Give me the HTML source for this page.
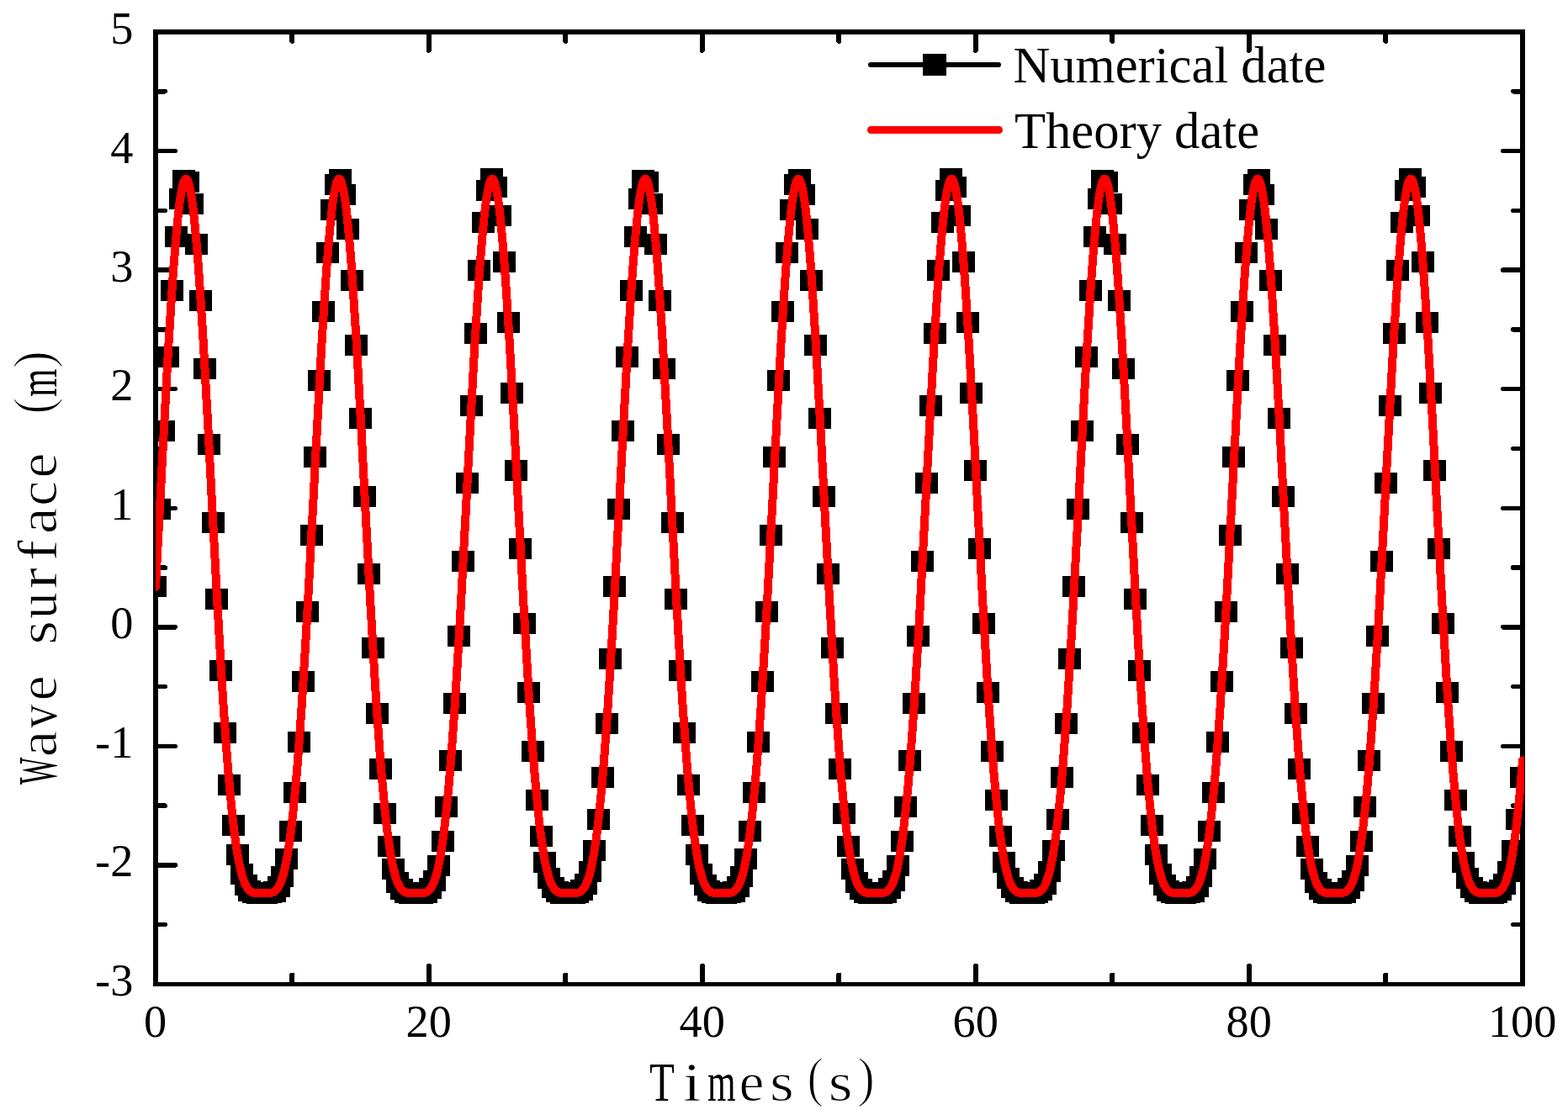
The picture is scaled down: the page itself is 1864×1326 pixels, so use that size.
<!DOCTYPE html>
<html lang="en"><head><meta charset="utf-8"><title>Wave surface (m) vs Times(s)</title>
<style>html,body{margin:0;padding:0;background:#fff;overflow:hidden;}svg{display:block;}.tk{font-family:"Liberation Serif",serif;font-size:54.3px;fill:#000;}.lg{font-family:"Liberation Serif",serif;font-size:60.6px;fill:#000;}.ax{font-family:"Liberation Serif",serif;font-size:66px;fill:#000;}</style></head><body>
<svg width="1864" height="1326" viewBox="0 0 1864 1326">
<rect width="1864" height="1326" fill="#fff"/>
<g shape-rendering="crispEdges" fill="#000">
<rect x="182" y="35" width="6" height="1138"/>
<rect x="1807" y="35" width="6" height="1138"/>
<rect x="182" y="35" width="1631" height="6"/>
<rect x="182" y="1168" width="1631" height="5"/>
</g>
<g stroke="#000" stroke-width="6" stroke-linecap="round" fill="none" shape-rendering="crispEdges">
<line x1="347.30" y1="1170" x2="347.30" y2="1159.6"/>
<line x1="347.30" y1="38" x2="347.30" y2="48.9"/>
<line x1="509.80" y1="1170" x2="509.80" y2="1148.8"/>
<line x1="509.80" y1="38" x2="509.80" y2="59.7"/>
<line x1="672.30" y1="1170" x2="672.30" y2="1159.6"/>
<line x1="672.30" y1="38" x2="672.30" y2="48.9"/>
<line x1="834.80" y1="1170" x2="834.80" y2="1148.8"/>
<line x1="834.80" y1="38" x2="834.80" y2="59.7"/>
<line x1="997.30" y1="1170" x2="997.30" y2="1159.6"/>
<line x1="997.30" y1="38" x2="997.30" y2="48.9"/>
<line x1="1159.80" y1="1170" x2="1159.80" y2="1148.8"/>
<line x1="1159.80" y1="38" x2="1159.80" y2="59.7"/>
<line x1="1322.30" y1="1170" x2="1322.30" y2="1159.6"/>
<line x1="1322.30" y1="38" x2="1322.30" y2="48.9"/>
<line x1="1484.80" y1="1170" x2="1484.80" y2="1148.8"/>
<line x1="1484.80" y1="38" x2="1484.80" y2="59.7"/>
<line x1="1647.30" y1="1170" x2="1647.30" y2="1159.6"/>
<line x1="1647.30" y1="38" x2="1647.30" y2="48.9"/>
<line x1="185" y1="1099.72" x2="196.2" y2="1099.72" stroke-width="5.5"/>
<line x1="1810" y1="1099.72" x2="1798.8" y2="1099.72" stroke-width="5.5"/>
<line x1="185" y1="1028.94" x2="208.2" y2="1028.94" stroke-width="5.5"/>
<line x1="1810" y1="1028.94" x2="1786.8" y2="1028.94" stroke-width="5.5"/>
<line x1="185" y1="958.16" x2="196.2" y2="958.16" stroke-width="5.5"/>
<line x1="1810" y1="958.16" x2="1798.8" y2="958.16" stroke-width="5.5"/>
<line x1="185" y1="887.38" x2="208.2" y2="887.38" stroke-width="5.5"/>
<line x1="1810" y1="887.38" x2="1786.8" y2="887.38" stroke-width="5.5"/>
<line x1="185" y1="816.59" x2="196.2" y2="816.59" stroke-width="5.5"/>
<line x1="1810" y1="816.59" x2="1798.8" y2="816.59" stroke-width="5.5"/>
<line x1="185" y1="745.81" x2="208.2" y2="745.81" stroke-width="5.5"/>
<line x1="1810" y1="745.81" x2="1786.8" y2="745.81" stroke-width="5.5"/>
<line x1="185" y1="675.03" x2="196.2" y2="675.03" stroke-width="5.5"/>
<line x1="1810" y1="675.03" x2="1798.8" y2="675.03" stroke-width="5.5"/>
<line x1="185" y1="604.25" x2="208.2" y2="604.25" stroke-width="5.5"/>
<line x1="1810" y1="604.25" x2="1786.8" y2="604.25" stroke-width="5.5"/>
<line x1="185" y1="533.47" x2="196.2" y2="533.47" stroke-width="5.5"/>
<line x1="1810" y1="533.47" x2="1798.8" y2="533.47" stroke-width="5.5"/>
<line x1="185" y1="462.69" x2="208.2" y2="462.69" stroke-width="5.5"/>
<line x1="1810" y1="462.69" x2="1786.8" y2="462.69" stroke-width="5.5"/>
<line x1="185" y1="391.91" x2="196.2" y2="391.91" stroke-width="5.5"/>
<line x1="1810" y1="391.91" x2="1798.8" y2="391.91" stroke-width="5.5"/>
<line x1="185" y1="321.12" x2="208.2" y2="321.12" stroke-width="5.5"/>
<line x1="1810" y1="321.12" x2="1786.8" y2="321.12" stroke-width="5.5"/>
<line x1="185" y1="250.34" x2="196.2" y2="250.34" stroke-width="5.5"/>
<line x1="1810" y1="250.34" x2="1798.8" y2="250.34" stroke-width="5.5"/>
<line x1="185" y1="179.56" x2="208.2" y2="179.56" stroke-width="5.5"/>
<line x1="1810" y1="179.56" x2="1786.8" y2="179.56" stroke-width="5.5"/>
<line x1="185" y1="108.78" x2="196.2" y2="108.78" stroke-width="5.5"/>
<line x1="1810" y1="108.78" x2="1798.8" y2="108.78" stroke-width="5.5"/>
</g>
<g class="tk" text-anchor="end">
<text x="158.3" y="1183.7">-3</text>
<text x="158.3" y="1042.2">-2</text>
<text x="158.3" y="900.8">-1</text>
<text x="158.3" y="759.3">0</text>
<text x="158.3" y="617.9">1</text>
<text x="158.3" y="476.4">2</text>
<text x="158.3" y="334.9">3</text>
<text x="158.3" y="193.5">4</text>
<text x="158.3" y="52.0">5</text>
</g>
<g class="tk" text-anchor="middle">
<text x="184.7" y="1232.8">0</text>
<text x="509.7" y="1232.8">20</text>
<text x="834.7" y="1232.8">40</text>
<text x="1159.7" y="1232.8">60</text>
<text x="1484.7" y="1232.8">80</text>
<text x="1809.7" y="1232.8">100</text>
</g>
<text class="ax" aria-label="Times(s)"><tspan x="772.07" y="1309.0" textLength="29.80" lengthAdjust="spacingAndGlyphs">T</tspan><tspan x="812.55" y="1309.0" textLength="20.54" lengthAdjust="spacingAndGlyphs" stroke="#fff" stroke-width="0.5">i</tspan><tspan x="841.09" y="1309.0" textLength="33.59" lengthAdjust="spacingAndGlyphs">m</tspan><tspan x="878.43" y="1309.0" textLength="29.87" lengthAdjust="spacingAndGlyphs" stroke="#fff" stroke-width="1.0">e</tspan><tspan x="914.94" y="1309.0" textLength="28.77" lengthAdjust="spacingAndGlyphs" stroke="#fff" stroke-width="1.0">s</tspan><tspan x="959.43" y="1303.0" textLength="19.44" lengthAdjust="spacingAndGlyphs" stroke="#fff" stroke-width="1.4">(</tspan><tspan x="984.84" y="1309.0" textLength="28.77" lengthAdjust="spacingAndGlyphs" stroke="#fff" stroke-width="1.0">s</tspan><tspan x="1018.98" y="1303.0" textLength="20.99" lengthAdjust="spacingAndGlyphs" stroke="#fff" stroke-width="1.4">)</tspan></text>
<text class="ax" aria-label="Wave surface (m)" transform="rotate(-90)"><tspan x="-933.03" y="67.2" textLength="32.30" lengthAdjust="spacingAndGlyphs">W</tspan><tspan x="-900.38" y="67.2" textLength="31.46" lengthAdjust="spacingAndGlyphs" stroke="#fff" stroke-width="1.0">a</tspan><tspan x="-865.80" y="67.2" textLength="27.90" lengthAdjust="spacingAndGlyphs" stroke="#fff" stroke-width="0.6">v</tspan><tspan x="-833.60" y="67.2" textLength="30.11" lengthAdjust="spacingAndGlyphs" stroke="#fff" stroke-width="1.0">e</tspan><tspan> </tspan><tspan x="-766.86" y="67.2" textLength="28.77" lengthAdjust="spacingAndGlyphs" stroke="#fff" stroke-width="1.0">s</tspan><tspan x="-735.85" y="67.2" textLength="30.96" lengthAdjust="spacingAndGlyphs" stroke="#fff" stroke-width="0.6">u</tspan><tspan x="-700.11" y="67.2" textLength="24.62" lengthAdjust="spacingAndGlyphs" stroke="#fff" stroke-width="0.5">r</tspan><tspan x="-666.95" y="67.2" textLength="24.62" lengthAdjust="spacingAndGlyphs" stroke="#fff" stroke-width="0.5">f</tspan><tspan x="-635.14" y="67.2" textLength="31.57" lengthAdjust="spacingAndGlyphs" stroke="#fff" stroke-width="1.0">a</tspan><tspan x="-601.71" y="67.2" textLength="29.94" lengthAdjust="spacingAndGlyphs" stroke="#fff" stroke-width="1.0">c</tspan><tspan x="-568.54" y="67.2" textLength="29.99" lengthAdjust="spacingAndGlyphs" stroke="#fff" stroke-width="1.0">e</tspan><tspan> </tspan><tspan x="-492.62" y="61.2" textLength="19.83" lengthAdjust="spacingAndGlyphs" stroke="#fff" stroke-width="1.4">(</tspan><tspan x="-471.90" y="67.2" textLength="33.49" lengthAdjust="spacingAndGlyphs">m</tspan><tspan x="-438.23" y="61.2" textLength="21.12" lengthAdjust="spacingAndGlyphs" stroke="#fff" stroke-width="1.4">)</tspan></text>
<defs><clipPath id="plot"><rect x="185" y="35" width="1627" height="1138"/></clipPath></defs>
<g clip-path="url(#plot)" shape-rendering="crispEdges">
<polyline fill="none" stroke="#000" stroke-width="6" stroke-linejoin="round" points="185.0,697.8 189.9,605.9 194.8,512.8 199.6,424.0 204.5,345.1 209.4,281.3 214.2,236.8 219.1,214.8 224.0,216.8 228.9,242.7 233.8,290.7 238.6,357.4 243.5,438.3 248.4,528.2 253.2,621.4 258.1,712.7 263.0,797.3 267.9,871.7 272.8,933.5 277.6,981.6 282.5,1016.5 287.4,1039.5 292.2,1052.9 297.1,1059.5 302.0,1061.8 306.9,1062.2 311.8,1062.1 316.6,1062.1 321.5,1062.0 326.4,1060.1 331.2,1054.4 336.1,1042.3 341.0,1021.1 345.9,988.3 350.8,942.5 355.6,882.9 360.5,810.5 365.4,727.4 370.2,636.9 375.1,543.6 380.0,452.8 384.9,370.0 389.8,300.6 394.6,249.2 399.5,219.5 404.4,213.4 409.2,231.5 414.1,272.4 419.0,333.3 423.9,410.1 428.8,497.5 433.6,590.3 438.5,682.8 443.4,770.1 448.2,848.3 453.1,914.4 458.0,967.1 462.9,1006.3 467.7,1033.0 472.6,1049.4 477.5,1057.9 482.4,1061.4 487.2,1062.1 492.1,1062.1 497.0,1062.1 501.9,1062.1 506.8,1061.0 511.6,1056.9 516.5,1047.3 521.4,1029.3 526.2,1000.6 531.1,959.3 536.0,904.3 540.9,836.0 545.8,756.1 550.6,667.6 555.5,574.7 560.4,482.5 565.2,396.4 570.1,321.9 575.0,264.1 579.9,226.9 584.8,212.8 589.6,222.9 594.5,256.4 599.4,311.0 604.2,383.0 609.1,467.5 614.0,559.1 618.9,652.3 623.8,741.9 628.6,823.4 633.5,893.8 638.4,951.0 643.2,994.7 648.1,1025.4 653.0,1044.9 657.9,1055.8 662.8,1060.6 667.6,1062.1 672.5,1062.1 677.4,1062.1 682.2,1062.2 687.1,1061.6 692.0,1058.8 696.9,1051.3 701.7,1036.4 706.6,1011.5 711.5,974.5 716.4,924.1 721.2,860.2 726.1,783.9 731.0,697.8 735.9,605.9 740.7,512.8 745.6,424.0 750.5,345.1 755.4,281.3 760.2,236.8 765.1,214.8 770.0,216.8 774.9,242.7 779.8,290.7 784.6,357.4 789.5,438.3 794.4,528.2 799.2,621.4 804.1,712.7 809.0,797.3 813.9,871.7 818.8,933.5 823.6,981.6 828.5,1016.5 833.4,1039.5 838.2,1052.9 843.1,1059.5 848.0,1061.8 852.9,1062.2 857.8,1062.1 862.6,1062.1 867.5,1062.0 872.4,1060.1 877.2,1054.4 882.1,1042.3 887.0,1021.1 891.9,988.3 896.8,942.5 901.6,882.9 906.5,810.5 911.4,727.4 916.2,636.9 921.1,543.6 926.0,452.8 930.9,370.0 935.8,300.6 940.6,249.2 945.5,219.5 950.4,213.4 955.2,231.5 960.1,272.4 965.0,333.3 969.9,410.1 974.8,497.5 979.6,590.3 984.5,682.8 989.4,770.1 994.2,848.3 999.1,914.4 1004.0,967.1 1008.9,1006.3 1013.8,1033.0 1018.6,1049.4 1023.5,1057.9 1028.4,1061.4 1033.2,1062.1 1038.1,1062.1 1043.0,1062.1 1047.9,1062.1 1052.8,1061.0 1057.6,1056.9 1062.5,1047.3 1067.4,1029.3 1072.2,1000.6 1077.1,959.3 1082.0,904.3 1086.9,836.0 1091.8,756.1 1096.6,667.6 1101.5,574.7 1106.4,482.5 1111.2,396.4 1116.1,321.9 1121.0,264.1 1125.9,226.9 1130.8,212.8 1135.6,222.9 1140.5,256.4 1145.4,311.0 1150.2,383.0 1155.1,467.5 1160.0,559.1 1164.9,652.3 1169.8,741.9 1174.6,823.4 1179.5,893.8 1184.4,951.0 1189.2,994.7 1194.1,1025.4 1199.0,1044.9 1203.9,1055.8 1208.8,1060.6 1213.6,1062.1 1218.5,1062.1 1223.4,1062.1 1228.2,1062.2 1233.1,1061.6 1238.0,1058.8 1242.9,1051.3 1247.7,1036.4 1252.6,1011.5 1257.5,974.5 1262.4,924.1 1267.2,860.2 1272.1,783.9 1277.0,697.8 1281.9,605.9 1286.8,512.8 1291.6,424.0 1296.5,345.1 1301.4,281.3 1306.2,236.8 1311.1,214.8 1316.0,216.8 1320.9,242.7 1325.8,290.7 1330.6,357.4 1335.5,438.3 1340.4,528.2 1345.2,621.4 1350.1,712.7 1355.0,797.3 1359.9,871.7 1364.7,933.5 1369.6,981.6 1374.5,1016.5 1379.4,1039.5 1384.2,1052.9 1389.1,1059.5 1394.0,1061.8 1398.9,1062.2 1403.8,1062.1 1408.6,1062.1 1413.5,1062.0 1418.4,1060.1 1423.2,1054.4 1428.1,1042.3 1433.0,1021.1 1437.9,988.3 1442.7,942.5 1447.6,882.9 1452.5,810.5 1457.4,727.4 1462.2,636.9 1467.1,543.6 1472.0,452.8 1476.9,370.0 1481.8,300.6 1486.6,249.2 1491.5,219.5 1496.4,213.4 1501.2,231.5 1506.1,272.4 1511.0,333.3 1515.9,410.1 1520.8,497.5 1525.6,590.3 1530.5,682.8 1535.4,770.1 1540.2,848.3 1545.1,914.4 1550.0,967.1 1554.9,1006.3 1559.8,1033.0 1564.6,1049.4 1569.5,1057.9 1574.4,1061.4 1579.2,1062.1 1584.1,1062.1 1589.0,1062.1 1593.9,1062.1 1598.8,1061.0 1603.6,1056.9 1608.5,1047.3 1613.4,1029.3 1618.2,1000.6 1623.1,959.3 1628.0,904.3 1632.9,836.0 1637.8,756.1 1642.6,667.6 1647.5,574.7 1652.4,482.5 1657.2,396.4 1662.1,321.9 1667.0,264.1 1671.9,226.9 1676.8,212.8 1681.6,222.9 1686.5,256.4 1691.4,311.0 1696.2,383.0 1701.1,467.5 1706.0,559.1 1710.9,652.3 1715.8,741.9 1720.6,823.4 1725.5,893.8 1730.4,951.0 1735.2,994.7 1740.1,1025.4 1745.0,1044.9 1749.9,1055.8 1754.8,1060.6 1759.6,1062.1 1764.5,1062.1 1769.4,1062.1 1774.2,1062.2 1779.1,1061.6 1784.0,1058.8 1788.9,1051.3 1793.8,1036.4 1798.6,1011.5 1803.5,974.5 1808.4,924.1"/>
<g fill="#000" shape-rendering="crispEdges">
<rect x="171" y="685" width="27" height="25"/>
<rect x="176" y="593" width="27" height="25"/>
<rect x="181" y="500" width="27" height="25"/>
<rect x="186" y="412" width="27" height="25"/>
<rect x="191" y="333" width="27" height="25"/>
<rect x="196" y="269" width="27" height="25"/>
<rect x="201" y="224" width="27" height="25"/>
<rect x="205" y="202" width="27" height="25"/>
<rect x="210" y="204" width="27" height="25"/>
<rect x="215" y="230" width="27" height="25"/>
<rect x="220" y="278" width="27" height="25"/>
<rect x="225" y="345" width="27" height="25"/>
<rect x="230" y="426" width="27" height="25"/>
<rect x="235" y="516" width="27" height="25"/>
<rect x="240" y="609" width="27" height="25"/>
<rect x="244" y="700" width="27" height="25"/>
<rect x="249" y="785" width="27" height="25"/>
<rect x="254" y="859" width="27" height="25"/>
<rect x="259" y="921" width="27" height="25"/>
<rect x="264" y="969" width="27" height="25"/>
<rect x="269" y="1004" width="27" height="25"/>
<rect x="274" y="1027" width="27" height="25"/>
<rect x="279" y="1040" width="27" height="25"/>
<rect x="283" y="1047" width="27" height="25"/>
<rect x="288" y="1049" width="27" height="25"/>
<rect x="293" y="1050" width="27" height="25"/>
<rect x="298" y="1050" width="27" height="25"/>
<rect x="303" y="1050" width="27" height="25"/>
<rect x="308" y="1049" width="27" height="25"/>
<rect x="313" y="1048" width="27" height="25"/>
<rect x="318" y="1042" width="27" height="25"/>
<rect x="322" y="1030" width="27" height="25"/>
<rect x="327" y="1009" width="27" height="25"/>
<rect x="332" y="976" width="27" height="25"/>
<rect x="337" y="930" width="27" height="25"/>
<rect x="342" y="870" width="27" height="25"/>
<rect x="347" y="798" width="27" height="25"/>
<rect x="352" y="715" width="27" height="25"/>
<rect x="357" y="624" width="27" height="25"/>
<rect x="361" y="531" width="27" height="25"/>
<rect x="366" y="440" width="27" height="25"/>
<rect x="371" y="358" width="27" height="25"/>
<rect x="376" y="288" width="27" height="25"/>
<rect x="381" y="237" width="27" height="25"/>
<rect x="386" y="207" width="27" height="25"/>
<rect x="391" y="201" width="27" height="25"/>
<rect x="396" y="219" width="27" height="25"/>
<rect x="400" y="260" width="27" height="25"/>
<rect x="405" y="321" width="27" height="25"/>
<rect x="410" y="398" width="27" height="25"/>
<rect x="415" y="485" width="27" height="25"/>
<rect x="420" y="578" width="27" height="25"/>
<rect x="425" y="670" width="27" height="25"/>
<rect x="430" y="758" width="27" height="25"/>
<rect x="435" y="836" width="27" height="25"/>
<rect x="439" y="902" width="27" height="25"/>
<rect x="444" y="955" width="27" height="25"/>
<rect x="449" y="994" width="27" height="25"/>
<rect x="454" y="1021" width="27" height="25"/>
<rect x="459" y="1037" width="27" height="25"/>
<rect x="464" y="1045" width="27" height="25"/>
<rect x="469" y="1049" width="27" height="25"/>
<rect x="474" y="1050" width="27" height="25"/>
<rect x="478" y="1050" width="27" height="25"/>
<rect x="483" y="1050" width="27" height="25"/>
<rect x="488" y="1050" width="27" height="25"/>
<rect x="493" y="1049" width="27" height="25"/>
<rect x="498" y="1044" width="27" height="25"/>
<rect x="503" y="1035" width="27" height="25"/>
<rect x="508" y="1017" width="27" height="25"/>
<rect x="513" y="988" width="27" height="25"/>
<rect x="517" y="947" width="27" height="25"/>
<rect x="522" y="892" width="27" height="25"/>
<rect x="527" y="824" width="27" height="25"/>
<rect x="532" y="744" width="27" height="25"/>
<rect x="537" y="655" width="27" height="25"/>
<rect x="542" y="562" width="27" height="25"/>
<rect x="547" y="470" width="27" height="25"/>
<rect x="552" y="384" width="27" height="25"/>
<rect x="556" y="309" width="27" height="25"/>
<rect x="561" y="252" width="27" height="25"/>
<rect x="566" y="214" width="27" height="25"/>
<rect x="571" y="200" width="27" height="25"/>
<rect x="576" y="210" width="27" height="25"/>
<rect x="581" y="244" width="27" height="25"/>
<rect x="586" y="299" width="27" height="25"/>
<rect x="591" y="371" width="27" height="25"/>
<rect x="595" y="455" width="27" height="25"/>
<rect x="600" y="547" width="27" height="25"/>
<rect x="605" y="640" width="27" height="25"/>
<rect x="610" y="729" width="27" height="25"/>
<rect x="615" y="811" width="27" height="25"/>
<rect x="620" y="881" width="27" height="25"/>
<rect x="625" y="939" width="27" height="25"/>
<rect x="630" y="982" width="27" height="25"/>
<rect x="634" y="1013" width="27" height="25"/>
<rect x="639" y="1032" width="27" height="25"/>
<rect x="644" y="1043" width="27" height="25"/>
<rect x="649" y="1048" width="27" height="25"/>
<rect x="654" y="1050" width="27" height="25"/>
<rect x="659" y="1050" width="27" height="25"/>
<rect x="664" y="1050" width="27" height="25"/>
<rect x="669" y="1050" width="27" height="25"/>
<rect x="673" y="1049" width="27" height="25"/>
<rect x="678" y="1046" width="27" height="25"/>
<rect x="683" y="1039" width="27" height="25"/>
<rect x="688" y="1024" width="27" height="25"/>
<rect x="693" y="999" width="27" height="25"/>
<rect x="698" y="962" width="27" height="25"/>
<rect x="703" y="912" width="27" height="25"/>
<rect x="708" y="848" width="27" height="25"/>
<rect x="712" y="771" width="27" height="25"/>
<rect x="717" y="685" width="27" height="25"/>
<rect x="722" y="593" width="27" height="25"/>
<rect x="727" y="500" width="27" height="25"/>
<rect x="732" y="412" width="27" height="25"/>
<rect x="737" y="333" width="27" height="25"/>
<rect x="742" y="269" width="27" height="25"/>
<rect x="747" y="224" width="27" height="25"/>
<rect x="751" y="202" width="27" height="25"/>
<rect x="756" y="204" width="27" height="25"/>
<rect x="761" y="230" width="27" height="25"/>
<rect x="766" y="278" width="27" height="25"/>
<rect x="771" y="345" width="27" height="25"/>
<rect x="776" y="426" width="27" height="25"/>
<rect x="781" y="516" width="27" height="25"/>
<rect x="786" y="609" width="27" height="25"/>
<rect x="790" y="700" width="27" height="25"/>
<rect x="795" y="785" width="27" height="25"/>
<rect x="800" y="859" width="27" height="25"/>
<rect x="805" y="921" width="27" height="25"/>
<rect x="810" y="969" width="27" height="25"/>
<rect x="815" y="1004" width="27" height="25"/>
<rect x="820" y="1027" width="27" height="25"/>
<rect x="825" y="1040" width="27" height="25"/>
<rect x="829" y="1047" width="27" height="25"/>
<rect x="834" y="1049" width="27" height="25"/>
<rect x="839" y="1050" width="27" height="25"/>
<rect x="844" y="1050" width="27" height="25"/>
<rect x="849" y="1050" width="27" height="25"/>
<rect x="854" y="1049" width="27" height="25"/>
<rect x="859" y="1048" width="27" height="25"/>
<rect x="864" y="1042" width="27" height="25"/>
<rect x="868" y="1030" width="27" height="25"/>
<rect x="873" y="1009" width="27" height="25"/>
<rect x="878" y="976" width="27" height="25"/>
<rect x="883" y="930" width="27" height="25"/>
<rect x="888" y="870" width="27" height="25"/>
<rect x="893" y="798" width="27" height="25"/>
<rect x="898" y="715" width="27" height="25"/>
<rect x="903" y="624" width="27" height="25"/>
<rect x="907" y="531" width="27" height="25"/>
<rect x="912" y="440" width="27" height="25"/>
<rect x="917" y="358" width="27" height="25"/>
<rect x="922" y="288" width="27" height="25"/>
<rect x="927" y="237" width="27" height="25"/>
<rect x="932" y="207" width="27" height="25"/>
<rect x="937" y="201" width="27" height="25"/>
<rect x="942" y="219" width="27" height="25"/>
<rect x="946" y="260" width="27" height="25"/>
<rect x="951" y="321" width="27" height="25"/>
<rect x="956" y="398" width="27" height="25"/>
<rect x="961" y="485" width="27" height="25"/>
<rect x="966" y="578" width="27" height="25"/>
<rect x="971" y="670" width="27" height="25"/>
<rect x="976" y="758" width="27" height="25"/>
<rect x="981" y="836" width="27" height="25"/>
<rect x="985" y="902" width="27" height="25"/>
<rect x="990" y="955" width="27" height="25"/>
<rect x="995" y="994" width="27" height="25"/>
<rect x="1000" y="1021" width="27" height="25"/>
<rect x="1005" y="1037" width="27" height="25"/>
<rect x="1010" y="1045" width="27" height="25"/>
<rect x="1015" y="1049" width="27" height="25"/>
<rect x="1020" y="1050" width="27" height="25"/>
<rect x="1024" y="1050" width="27" height="25"/>
<rect x="1029" y="1050" width="27" height="25"/>
<rect x="1034" y="1050" width="27" height="25"/>
<rect x="1039" y="1049" width="27" height="25"/>
<rect x="1044" y="1044" width="27" height="25"/>
<rect x="1049" y="1035" width="27" height="25"/>
<rect x="1054" y="1017" width="27" height="25"/>
<rect x="1059" y="988" width="27" height="25"/>
<rect x="1063" y="947" width="27" height="25"/>
<rect x="1068" y="892" width="27" height="25"/>
<rect x="1073" y="824" width="27" height="25"/>
<rect x="1078" y="744" width="27" height="25"/>
<rect x="1083" y="655" width="27" height="25"/>
<rect x="1088" y="562" width="27" height="25"/>
<rect x="1093" y="470" width="27" height="25"/>
<rect x="1098" y="384" width="27" height="25"/>
<rect x="1102" y="309" width="27" height="25"/>
<rect x="1107" y="252" width="27" height="25"/>
<rect x="1112" y="214" width="27" height="25"/>
<rect x="1117" y="200" width="27" height="25"/>
<rect x="1122" y="210" width="27" height="25"/>
<rect x="1127" y="244" width="27" height="25"/>
<rect x="1132" y="299" width="27" height="25"/>
<rect x="1137" y="371" width="27" height="25"/>
<rect x="1141" y="455" width="27" height="25"/>
<rect x="1146" y="547" width="27" height="25"/>
<rect x="1151" y="640" width="27" height="25"/>
<rect x="1156" y="729" width="27" height="25"/>
<rect x="1161" y="811" width="27" height="25"/>
<rect x="1166" y="881" width="27" height="25"/>
<rect x="1171" y="939" width="27" height="25"/>
<rect x="1176" y="982" width="27" height="25"/>
<rect x="1180" y="1013" width="27" height="25"/>
<rect x="1185" y="1032" width="27" height="25"/>
<rect x="1190" y="1043" width="27" height="25"/>
<rect x="1195" y="1048" width="27" height="25"/>
<rect x="1200" y="1050" width="27" height="25"/>
<rect x="1205" y="1050" width="27" height="25"/>
<rect x="1210" y="1050" width="27" height="25"/>
<rect x="1215" y="1050" width="27" height="25"/>
<rect x="1219" y="1049" width="27" height="25"/>
<rect x="1224" y="1046" width="27" height="25"/>
<rect x="1229" y="1039" width="27" height="25"/>
<rect x="1234" y="1024" width="27" height="25"/>
<rect x="1239" y="999" width="27" height="25"/>
<rect x="1244" y="962" width="27" height="25"/>
<rect x="1249" y="912" width="27" height="25"/>
<rect x="1254" y="848" width="27" height="25"/>
<rect x="1258" y="771" width="27" height="25"/>
<rect x="1263" y="685" width="27" height="25"/>
<rect x="1268" y="593" width="27" height="25"/>
<rect x="1273" y="500" width="27" height="25"/>
<rect x="1278" y="412" width="27" height="25"/>
<rect x="1283" y="333" width="27" height="25"/>
<rect x="1288" y="269" width="27" height="25"/>
<rect x="1293" y="224" width="27" height="25"/>
<rect x="1297" y="202" width="27" height="25"/>
<rect x="1302" y="204" width="27" height="25"/>
<rect x="1307" y="230" width="27" height="25"/>
<rect x="1312" y="278" width="27" height="25"/>
<rect x="1317" y="345" width="27" height="25"/>
<rect x="1322" y="426" width="27" height="25"/>
<rect x="1327" y="516" width="27" height="25"/>
<rect x="1332" y="609" width="27" height="25"/>
<rect x="1336" y="700" width="27" height="25"/>
<rect x="1341" y="785" width="27" height="25"/>
<rect x="1346" y="859" width="27" height="25"/>
<rect x="1351" y="921" width="27" height="25"/>
<rect x="1356" y="969" width="27" height="25"/>
<rect x="1361" y="1004" width="27" height="25"/>
<rect x="1366" y="1027" width="27" height="25"/>
<rect x="1371" y="1040" width="27" height="25"/>
<rect x="1375" y="1047" width="27" height="25"/>
<rect x="1380" y="1049" width="27" height="25"/>
<rect x="1385" y="1050" width="27" height="25"/>
<rect x="1390" y="1050" width="27" height="25"/>
<rect x="1395" y="1050" width="27" height="25"/>
<rect x="1400" y="1049" width="27" height="25"/>
<rect x="1405" y="1048" width="27" height="25"/>
<rect x="1410" y="1042" width="27" height="25"/>
<rect x="1414" y="1030" width="27" height="25"/>
<rect x="1419" y="1009" width="27" height="25"/>
<rect x="1424" y="976" width="27" height="25"/>
<rect x="1429" y="930" width="27" height="25"/>
<rect x="1434" y="870" width="27" height="25"/>
<rect x="1439" y="798" width="27" height="25"/>
<rect x="1444" y="715" width="27" height="25"/>
<rect x="1449" y="624" width="27" height="25"/>
<rect x="1453" y="531" width="27" height="25"/>
<rect x="1458" y="440" width="27" height="25"/>
<rect x="1463" y="358" width="27" height="25"/>
<rect x="1468" y="288" width="27" height="25"/>
<rect x="1473" y="237" width="27" height="25"/>
<rect x="1478" y="207" width="27" height="25"/>
<rect x="1483" y="201" width="27" height="25"/>
<rect x="1488" y="219" width="27" height="25"/>
<rect x="1492" y="260" width="27" height="25"/>
<rect x="1497" y="321" width="27" height="25"/>
<rect x="1502" y="398" width="27" height="25"/>
<rect x="1507" y="485" width="27" height="25"/>
<rect x="1512" y="578" width="27" height="25"/>
<rect x="1517" y="670" width="27" height="25"/>
<rect x="1522" y="758" width="27" height="25"/>
<rect x="1527" y="836" width="27" height="25"/>
<rect x="1531" y="902" width="27" height="25"/>
<rect x="1536" y="955" width="27" height="25"/>
<rect x="1541" y="994" width="27" height="25"/>
<rect x="1546" y="1021" width="27" height="25"/>
<rect x="1551" y="1037" width="27" height="25"/>
<rect x="1556" y="1045" width="27" height="25"/>
<rect x="1561" y="1049" width="27" height="25"/>
<rect x="1566" y="1050" width="27" height="25"/>
<rect x="1570" y="1050" width="27" height="25"/>
<rect x="1575" y="1050" width="27" height="25"/>
<rect x="1580" y="1050" width="27" height="25"/>
<rect x="1585" y="1049" width="27" height="25"/>
<rect x="1590" y="1044" width="27" height="25"/>
<rect x="1595" y="1035" width="27" height="25"/>
<rect x="1600" y="1017" width="27" height="25"/>
<rect x="1605" y="988" width="27" height="25"/>
<rect x="1609" y="947" width="27" height="25"/>
<rect x="1614" y="892" width="27" height="25"/>
<rect x="1619" y="824" width="27" height="25"/>
<rect x="1624" y="744" width="27" height="25"/>
<rect x="1629" y="655" width="27" height="25"/>
<rect x="1634" y="562" width="27" height="25"/>
<rect x="1639" y="470" width="27" height="25"/>
<rect x="1644" y="384" width="27" height="25"/>
<rect x="1648" y="309" width="27" height="25"/>
<rect x="1653" y="252" width="27" height="25"/>
<rect x="1658" y="214" width="27" height="25"/>
<rect x="1663" y="200" width="27" height="25"/>
<rect x="1668" y="210" width="27" height="25"/>
<rect x="1673" y="244" width="27" height="25"/>
<rect x="1678" y="299" width="27" height="25"/>
<rect x="1683" y="371" width="27" height="25"/>
<rect x="1687" y="455" width="27" height="25"/>
<rect x="1692" y="547" width="27" height="25"/>
<rect x="1697" y="640" width="27" height="25"/>
<rect x="1702" y="729" width="27" height="25"/>
<rect x="1707" y="811" width="27" height="25"/>
<rect x="1712" y="881" width="27" height="25"/>
<rect x="1717" y="939" width="27" height="25"/>
<rect x="1722" y="982" width="27" height="25"/>
<rect x="1726" y="1013" width="27" height="25"/>
<rect x="1731" y="1032" width="27" height="25"/>
<rect x="1736" y="1043" width="27" height="25"/>
<rect x="1741" y="1048" width="27" height="25"/>
<rect x="1746" y="1050" width="27" height="25"/>
<rect x="1751" y="1050" width="27" height="25"/>
<rect x="1756" y="1050" width="27" height="25"/>
<rect x="1761" y="1050" width="27" height="25"/>
<rect x="1765" y="1049" width="27" height="25"/>
<rect x="1770" y="1046" width="27" height="25"/>
<rect x="1775" y="1039" width="27" height="25"/>
<rect x="1780" y="1024" width="27" height="25"/>
<rect x="1785" y="999" width="27" height="25"/>
<rect x="1790" y="962" width="27" height="25"/>
<rect x="1795" y="912" width="27" height="25"/>
</g>
<polyline fill="none" stroke="#f00" stroke-width="10" stroke-linejoin="round" stroke-linecap="round" points="185.0,697.8 185.8,682.8 186.6,667.6 187.4,652.3 188.2,636.9 189.1,621.4 189.9,605.9 190.7,590.3 191.5,574.7 192.3,559.1 193.1,543.6 193.9,528.2 194.8,512.8 195.6,497.5 196.4,482.5 197.2,467.5 198.0,452.8 198.8,438.3 199.6,424.0 200.4,410.1 201.2,396.4 202.1,383.0 202.9,370.0 203.7,357.4 204.5,345.1 205.3,333.3 206.1,321.9 206.9,311.0 207.8,300.6 208.6,290.7 209.4,281.3 210.2,272.4 211.0,264.1 211.8,256.4 212.6,249.2 213.4,242.7 214.2,236.8 215.1,231.5 215.9,226.9 216.7,222.9 217.5,219.5 218.3,216.8 219.1,214.8 219.9,213.4 220.8,212.8 221.6,212.8 222.4,213.4 223.2,214.8 224.0,216.8 224.8,219.5 225.6,222.9 226.4,226.9 227.2,231.5 228.1,236.8 228.9,242.7 229.7,249.2 230.5,256.4 231.3,264.1 232.1,272.4 232.9,281.3 233.8,290.7 234.6,300.6 235.4,311.0 236.2,321.9 237.0,333.3 237.8,345.1 238.6,357.4 239.4,370.0 240.2,383.0 241.1,396.4 241.9,410.1 242.7,424.0 243.5,438.3 244.3,452.8 245.1,467.5 245.9,482.5 246.8,497.5 247.6,512.8 248.4,528.2 249.2,543.6 250.0,559.1 250.8,574.7 251.6,590.3 252.4,605.9 253.2,621.4 254.1,636.9 254.9,652.3 255.7,667.6 256.5,682.8 257.3,697.8 258.1,712.7 258.9,727.4 259.8,741.9 260.6,756.1 261.4,770.1 262.2,783.9 263.0,797.3 263.8,810.5 264.6,823.4 265.4,836.0 266.2,848.3 267.1,860.2 267.9,871.7 268.7,882.9 269.5,893.8 270.3,904.3 271.1,914.4 271.9,924.1 272.8,933.5 273.6,942.5 274.4,951.0 275.2,959.3 276.0,967.1 276.8,974.5 277.6,981.6 278.4,988.3 279.2,994.7 280.1,1000.6 280.9,1006.3 281.7,1011.5 282.5,1016.5 283.3,1021.1 284.1,1025.4 284.9,1029.3 285.8,1033.0 286.6,1036.4 287.4,1039.5 288.2,1042.3 289.0,1044.9 289.8,1047.3 290.6,1049.4 291.4,1051.3 292.2,1052.9 293.1,1054.4 293.9,1055.8 294.7,1056.9 295.5,1057.9 296.3,1058.8 297.1,1059.5 297.9,1060.1 298.8,1060.6 299.6,1061.0 300.4,1061.4 301.2,1061.6 302.0,1061.8 302.8,1062.0 303.6,1062.1 304.4,1062.1 305.2,1062.1 306.1,1062.2 306.9,1062.2 307.7,1062.1 308.5,1062.1 309.3,1062.1 310.1,1062.1 310.9,1062.1 311.8,1062.1 312.6,1062.1 313.4,1062.1 314.2,1062.1 315.0,1062.1 315.8,1062.1 316.6,1062.1 317.4,1062.2 318.2,1062.2 319.1,1062.1 319.9,1062.1 320.7,1062.1 321.5,1062.0 322.3,1061.8 323.1,1061.6 323.9,1061.4 324.8,1061.0 325.6,1060.6 326.4,1060.1 327.2,1059.5 328.0,1058.8 328.8,1057.9 329.6,1056.9 330.4,1055.8 331.2,1054.4 332.1,1052.9 332.9,1051.3 333.7,1049.4 334.5,1047.3 335.3,1044.9 336.1,1042.3 336.9,1039.5 337.8,1036.4 338.6,1033.0 339.4,1029.3 340.2,1025.4 341.0,1021.1 341.8,1016.5 342.6,1011.5 343.4,1006.3 344.2,1000.6 345.1,994.7 345.9,988.3 346.7,981.6 347.5,974.5 348.3,967.1 349.1,959.3 349.9,951.0 350.8,942.5 351.6,933.5 352.4,924.1 353.2,914.4 354.0,904.3 354.8,893.8 355.6,882.9 356.4,871.7 357.2,860.2 358.1,848.3 358.9,836.0 359.7,823.4 360.5,810.5 361.3,797.3 362.1,783.9 362.9,770.1 363.8,756.1 364.6,741.9 365.4,727.4 366.2,712.7 367.0,697.8 367.8,682.8 368.6,667.6 369.4,652.3 370.2,636.9 371.1,621.4 371.9,605.9 372.7,590.3 373.5,574.7 374.3,559.1 375.1,543.6 375.9,528.2 376.8,512.8 377.6,497.5 378.4,482.5 379.2,467.5 380.0,452.8 380.8,438.3 381.6,424.0 382.4,410.1 383.2,396.4 384.1,383.0 384.9,370.0 385.7,357.4 386.5,345.1 387.3,333.3 388.1,321.9 388.9,311.0 389.8,300.6 390.6,290.7 391.4,281.3 392.2,272.4 393.0,264.1 393.8,256.4 394.6,249.2 395.4,242.7 396.2,236.8 397.1,231.5 397.9,226.9 398.7,222.9 399.5,219.5 400.3,216.8 401.1,214.8 401.9,213.4 402.8,212.8 403.6,212.8 404.4,213.4 405.2,214.8 406.0,216.8 406.8,219.5 407.6,222.9 408.4,226.9 409.2,231.5 410.1,236.8 410.9,242.7 411.7,249.2 412.5,256.4 413.3,264.1 414.1,272.4 414.9,281.3 415.8,290.7 416.6,300.6 417.4,311.0 418.2,321.9 419.0,333.3 419.8,345.1 420.6,357.4 421.4,370.0 422.2,383.0 423.1,396.4 423.9,410.1 424.7,424.0 425.5,438.3 426.3,452.8 427.1,467.5 427.9,482.5 428.8,497.5 429.6,512.8 430.4,528.2 431.2,543.6 432.0,559.1 432.8,574.7 433.6,590.3 434.4,605.9 435.2,621.4 436.1,636.9 436.9,652.3 437.7,667.6 438.5,682.8 439.3,697.8 440.1,712.7 440.9,727.4 441.8,741.9 442.6,756.1 443.4,770.1 444.2,783.9 445.0,797.3 445.8,810.5 446.6,823.4 447.4,836.0 448.2,848.3 449.1,860.2 449.9,871.7 450.7,882.9 451.5,893.8 452.3,904.3 453.1,914.4 453.9,924.1 454.8,933.5 455.6,942.5 456.4,951.0 457.2,959.3 458.0,967.1 458.8,974.5 459.6,981.6 460.4,988.3 461.2,994.7 462.1,1000.6 462.9,1006.3 463.7,1011.5 464.5,1016.5 465.3,1021.1 466.1,1025.4 466.9,1029.3 467.7,1033.0 468.6,1036.4 469.4,1039.5 470.2,1042.3 471.0,1044.9 471.8,1047.3 472.6,1049.4 473.4,1051.3 474.2,1052.9 475.1,1054.4 475.9,1055.8 476.7,1056.9 477.5,1057.9 478.3,1058.8 479.1,1059.5 479.9,1060.1 480.8,1060.6 481.6,1061.0 482.4,1061.4 483.2,1061.6 484.0,1061.8 484.8,1062.0 485.6,1062.1 486.4,1062.1 487.3,1062.1 488.1,1062.2 488.9,1062.2 489.7,1062.1 490.5,1062.1 491.3,1062.1 492.1,1062.1 492.9,1062.1 493.8,1062.1 494.6,1062.1 495.4,1062.1 496.2,1062.1 497.0,1062.1 497.8,1062.1 498.6,1062.1 499.4,1062.2 500.2,1062.2 501.1,1062.1 501.9,1062.1 502.7,1062.1 503.5,1062.0 504.3,1061.8 505.1,1061.6 505.9,1061.4 506.8,1061.0 507.6,1060.6 508.4,1060.1 509.2,1059.5 510.0,1058.8 510.8,1057.9 511.6,1056.9 512.4,1055.8 513.2,1054.4 514.1,1052.9 514.9,1051.3 515.7,1049.4 516.5,1047.3 517.3,1044.9 518.1,1042.3 518.9,1039.5 519.8,1036.4 520.6,1033.0 521.4,1029.3 522.2,1025.4 523.0,1021.1 523.8,1016.5 524.6,1011.5 525.4,1006.3 526.2,1000.6 527.1,994.7 527.9,988.3 528.7,981.6 529.5,974.5 530.3,967.1 531.1,959.3 531.9,951.0 532.8,942.5 533.6,933.5 534.4,924.1 535.2,914.4 536.0,904.3 536.8,893.8 537.6,882.9 538.4,871.7 539.2,860.2 540.1,848.3 540.9,836.0 541.7,823.4 542.5,810.5 543.3,797.3 544.1,783.9 544.9,770.1 545.8,756.1 546.6,741.9 547.4,727.4 548.2,712.7 549.0,697.8 549.8,682.8 550.6,667.6 551.4,652.3 552.2,636.9 553.1,621.4 553.9,605.9 554.7,590.3 555.5,574.7 556.3,559.1 557.1,543.6 557.9,528.2 558.8,512.8 559.6,497.5 560.4,482.5 561.2,467.5 562.0,452.8 562.8,438.3 563.6,424.0 564.4,410.1 565.2,396.4 566.1,383.0 566.9,370.0 567.7,357.4 568.5,345.1 569.3,333.3 570.1,321.9 570.9,311.0 571.8,300.6 572.6,290.7 573.4,281.3 574.2,272.4 575.0,264.1 575.8,256.4 576.6,249.2 577.4,242.7 578.2,236.8 579.1,231.5 579.9,226.9 580.7,222.9 581.5,219.5 582.3,216.8 583.1,214.8 583.9,213.4 584.8,212.8 585.6,212.8 586.4,213.4 587.2,214.8 588.0,216.8 588.8,219.5 589.6,222.9 590.4,226.9 591.2,231.5 592.1,236.8 592.9,242.7 593.7,249.2 594.5,256.4 595.3,264.1 596.1,272.4 596.9,281.3 597.8,290.7 598.6,300.6 599.4,311.0 600.2,321.9 601.0,333.3 601.8,345.1 602.6,357.4 603.4,370.0 604.2,383.0 605.1,396.4 605.9,410.1 606.7,424.0 607.5,438.3 608.3,452.8 609.1,467.5 609.9,482.5 610.8,497.5 611.6,512.8 612.4,528.2 613.2,543.6 614.0,559.1 614.8,574.7 615.6,590.3 616.4,605.9 617.2,621.4 618.1,636.9 618.9,652.3 619.7,667.6 620.5,682.8 621.3,697.8 622.1,712.7 622.9,727.4 623.8,741.9 624.6,756.1 625.4,770.1 626.2,783.9 627.0,797.3 627.8,810.5 628.6,823.4 629.4,836.0 630.2,848.3 631.1,860.2 631.9,871.7 632.7,882.9 633.5,893.8 634.3,904.3 635.1,914.4 635.9,924.1 636.8,933.5 637.6,942.5 638.4,951.0 639.2,959.3 640.0,967.1 640.8,974.5 641.6,981.6 642.4,988.3 643.2,994.7 644.1,1000.6 644.9,1006.3 645.7,1011.5 646.5,1016.5 647.3,1021.1 648.1,1025.4 648.9,1029.3 649.8,1033.0 650.6,1036.4 651.4,1039.5 652.2,1042.3 653.0,1044.9 653.8,1047.3 654.6,1049.4 655.4,1051.3 656.2,1052.9 657.1,1054.4 657.9,1055.8 658.7,1056.9 659.5,1057.9 660.3,1058.8 661.1,1059.5 661.9,1060.1 662.8,1060.6 663.6,1061.0 664.4,1061.4 665.2,1061.6 666.0,1061.8 666.8,1062.0 667.6,1062.1 668.4,1062.1 669.2,1062.1 670.1,1062.2 670.9,1062.2 671.7,1062.1 672.5,1062.1 673.3,1062.1 674.1,1062.1 674.9,1062.1 675.8,1062.1 676.6,1062.1 677.4,1062.1 678.2,1062.1 679.0,1062.1 679.8,1062.1 680.6,1062.1 681.4,1062.2 682.2,1062.2 683.1,1062.1 683.9,1062.1 684.7,1062.1 685.5,1062.0 686.3,1061.8 687.1,1061.6 687.9,1061.4 688.8,1061.0 689.6,1060.6 690.4,1060.1 691.2,1059.5 692.0,1058.8 692.8,1057.9 693.6,1056.9 694.4,1055.8 695.2,1054.4 696.1,1052.9 696.9,1051.3 697.7,1049.4 698.5,1047.3 699.3,1044.9 700.1,1042.3 700.9,1039.5 701.8,1036.4 702.6,1033.0 703.4,1029.3 704.2,1025.4 705.0,1021.1 705.8,1016.5 706.6,1011.5 707.4,1006.3 708.3,1000.6 709.1,994.7 709.9,988.3 710.7,981.6 711.5,974.5 712.3,967.1 713.1,959.3 713.9,951.0 714.8,942.5 715.6,933.5 716.4,924.1 717.2,914.4 718.0,904.3 718.8,893.8 719.6,882.9 720.4,871.7 721.2,860.2 722.1,848.3 722.9,836.0 723.7,823.4 724.5,810.5 725.3,797.3 726.1,783.9 726.9,770.1 727.8,756.1 728.6,741.9 729.4,727.4 730.2,712.7 731.0,697.8 731.8,682.8 732.6,667.6 733.4,652.3 734.2,636.9 735.1,621.4 735.9,605.9 736.7,590.3 737.5,574.7 738.3,559.1 739.1,543.6 739.9,528.2 740.8,512.8 741.6,497.5 742.4,482.5 743.2,467.5 744.0,452.8 744.8,438.3 745.6,424.0 746.4,410.1 747.2,396.4 748.1,383.0 748.9,370.0 749.7,357.4 750.5,345.1 751.3,333.3 752.1,321.9 752.9,311.0 753.8,300.6 754.6,290.7 755.4,281.3 756.2,272.4 757.0,264.1 757.8,256.4 758.6,249.2 759.4,242.7 760.2,236.8 761.1,231.5 761.9,226.9 762.7,222.9 763.5,219.5 764.3,216.8 765.1,214.8 765.9,213.4 766.7,212.8 767.6,212.8 768.4,213.4 769.2,214.8 770.0,216.8 770.8,219.5 771.6,222.9 772.4,226.9 773.3,231.5 774.1,236.8 774.9,242.7 775.7,249.2 776.5,256.4 777.3,264.1 778.1,272.4 778.9,281.3 779.8,290.7 780.6,300.6 781.4,311.0 782.2,321.9 783.0,333.3 783.8,345.1 784.6,357.4 785.4,370.0 786.2,383.0 787.1,396.4 787.9,410.1 788.7,424.0 789.5,438.3 790.3,452.8 791.1,467.5 791.9,482.5 792.8,497.5 793.6,512.8 794.4,528.2 795.2,543.6 796.0,559.1 796.8,574.7 797.6,590.3 798.4,605.9 799.2,621.4 800.1,636.9 800.9,652.3 801.7,667.6 802.5,682.8 803.3,697.8 804.1,712.7 804.9,727.4 805.8,741.9 806.6,756.1 807.4,770.1 808.2,783.9 809.0,797.3 809.8,810.5 810.6,823.4 811.4,836.0 812.2,848.3 813.1,860.2 813.9,871.7 814.7,882.9 815.5,893.8 816.3,904.3 817.1,914.4 817.9,924.1 818.8,933.5 819.6,942.5 820.4,951.0 821.2,959.3 822.0,967.1 822.8,974.5 823.6,981.6 824.4,988.3 825.2,994.7 826.1,1000.6 826.9,1006.3 827.7,1011.5 828.5,1016.5 829.3,1021.1 830.1,1025.4 830.9,1029.3 831.7,1033.0 832.6,1036.4 833.4,1039.5 834.2,1042.3 835.0,1044.9 835.8,1047.3 836.6,1049.4 837.4,1051.3 838.3,1052.9 839.1,1054.4 839.9,1055.8 840.7,1056.9 841.5,1057.9 842.3,1058.8 843.1,1059.5 843.9,1060.1 844.8,1060.6 845.6,1061.0 846.4,1061.4 847.2,1061.6 848.0,1061.8 848.8,1062.0 849.6,1062.1 850.4,1062.1 851.2,1062.1 852.1,1062.2 852.9,1062.2 853.7,1062.1 854.5,1062.1 855.3,1062.1 856.1,1062.1 856.9,1062.1 857.8,1062.1 858.6,1062.1 859.4,1062.1 860.2,1062.1 861.0,1062.1 861.8,1062.1 862.6,1062.1 863.4,1062.2 864.2,1062.2 865.1,1062.1 865.9,1062.1 866.7,1062.1 867.5,1062.0 868.3,1061.8 869.1,1061.6 869.9,1061.4 870.8,1061.0 871.6,1060.6 872.4,1060.1 873.2,1059.5 874.0,1058.8 874.8,1057.9 875.6,1056.9 876.4,1055.8 877.2,1054.4 878.1,1052.9 878.9,1051.3 879.7,1049.4 880.5,1047.3 881.3,1044.9 882.1,1042.3 882.9,1039.5 883.8,1036.4 884.6,1033.0 885.4,1029.3 886.2,1025.4 887.0,1021.1 887.8,1016.5 888.6,1011.5 889.4,1006.3 890.2,1000.6 891.1,994.7 891.9,988.3 892.7,981.6 893.5,974.5 894.3,967.1 895.1,959.3 895.9,951.0 896.8,942.5 897.6,933.5 898.4,924.1 899.2,914.4 900.0,904.3 900.8,893.8 901.6,882.9 902.4,871.7 903.2,860.2 904.1,848.3 904.9,836.0 905.7,823.4 906.5,810.5 907.3,797.3 908.1,783.9 908.9,770.1 909.8,756.1 910.6,741.9 911.4,727.4 912.2,712.7 913.0,697.8 913.8,682.8 914.6,667.6 915.4,652.3 916.2,636.9 917.1,621.4 917.9,605.9 918.7,590.3 919.5,574.7 920.3,559.1 921.1,543.6 921.9,528.2 922.8,512.8 923.6,497.5 924.4,482.5 925.2,467.5 926.0,452.8 926.8,438.3 927.6,424.0 928.4,410.1 929.2,396.4 930.1,383.0 930.9,370.0 931.7,357.4 932.5,345.1 933.3,333.3 934.1,321.9 934.9,311.0 935.8,300.6 936.6,290.7 937.4,281.3 938.2,272.4 939.0,264.1 939.8,256.4 940.6,249.2 941.4,242.7 942.2,236.8 943.1,231.5 943.9,226.9 944.7,222.9 945.5,219.5 946.3,216.8 947.1,214.8 947.9,213.4 948.8,212.8 949.6,212.8 950.4,213.4 951.2,214.8 952.0,216.8 952.8,219.5 953.6,222.9 954.4,226.9 955.2,231.5 956.1,236.8 956.9,242.7 957.7,249.2 958.5,256.4 959.3,264.1 960.1,272.4 960.9,281.3 961.8,290.7 962.6,300.6 963.4,311.0 964.2,321.9 965.0,333.3 965.8,345.1 966.6,357.4 967.4,370.0 968.2,383.0 969.1,396.4 969.9,410.1 970.7,424.0 971.5,438.3 972.3,452.8 973.1,467.5 973.9,482.5 974.8,497.5 975.6,512.8 976.4,528.2 977.2,543.6 978.0,559.1 978.8,574.7 979.6,590.3 980.4,605.9 981.2,621.4 982.1,636.9 982.9,652.3 983.7,667.6 984.5,682.8 985.3,697.8 986.1,712.7 986.9,727.4 987.8,741.9 988.6,756.1 989.4,770.1 990.2,783.9 991.0,797.3 991.8,810.5 992.6,823.4 993.4,836.0 994.2,848.3 995.1,860.2 995.9,871.7 996.7,882.9 997.5,893.8 998.3,904.3 999.1,914.4 999.9,924.1 1000.8,933.5 1001.6,942.5 1002.4,951.0 1003.2,959.3 1004.0,967.1 1004.8,974.5 1005.6,981.6 1006.4,988.3 1007.2,994.7 1008.1,1000.6 1008.9,1006.3 1009.7,1011.5 1010.5,1016.5 1011.3,1021.1 1012.1,1025.4 1012.9,1029.3 1013.8,1033.0 1014.6,1036.4 1015.4,1039.5 1016.2,1042.3 1017.0,1044.9 1017.8,1047.3 1018.6,1049.4 1019.4,1051.3 1020.2,1052.9 1021.1,1054.4 1021.9,1055.8 1022.7,1056.9 1023.5,1057.9 1024.3,1058.8 1025.1,1059.5 1025.9,1060.1 1026.8,1060.6 1027.6,1061.0 1028.4,1061.4 1029.2,1061.6 1030.0,1061.8 1030.8,1062.0 1031.6,1062.1 1032.4,1062.1 1033.2,1062.1 1034.1,1062.2 1034.9,1062.2 1035.7,1062.1 1036.5,1062.1 1037.3,1062.1 1038.1,1062.1 1038.9,1062.1 1039.8,1062.1 1040.6,1062.1 1041.4,1062.1 1042.2,1062.1 1043.0,1062.1 1043.8,1062.1 1044.6,1062.1 1045.4,1062.2 1046.2,1062.2 1047.1,1062.1 1047.9,1062.1 1048.7,1062.1 1049.5,1062.0 1050.3,1061.8 1051.1,1061.6 1051.9,1061.4 1052.8,1061.0 1053.6,1060.6 1054.4,1060.1 1055.2,1059.5 1056.0,1058.8 1056.8,1057.9 1057.6,1056.9 1058.4,1055.8 1059.2,1054.4 1060.1,1052.9 1060.9,1051.3 1061.7,1049.4 1062.5,1047.3 1063.3,1044.9 1064.1,1042.3 1064.9,1039.5 1065.8,1036.4 1066.6,1033.0 1067.4,1029.3 1068.2,1025.4 1069.0,1021.1 1069.8,1016.5 1070.6,1011.5 1071.4,1006.3 1072.2,1000.6 1073.1,994.7 1073.9,988.3 1074.7,981.6 1075.5,974.5 1076.3,967.1 1077.1,959.3 1077.9,951.0 1078.8,942.5 1079.6,933.5 1080.4,924.1 1081.2,914.4 1082.0,904.3 1082.8,893.8 1083.6,882.9 1084.4,871.7 1085.2,860.2 1086.1,848.3 1086.9,836.0 1087.7,823.4 1088.5,810.5 1089.3,797.3 1090.1,783.9 1090.9,770.1 1091.8,756.1 1092.6,741.9 1093.4,727.4 1094.2,712.7 1095.0,697.8 1095.8,682.8 1096.6,667.6 1097.4,652.3 1098.2,636.9 1099.1,621.4 1099.9,605.9 1100.7,590.3 1101.5,574.7 1102.3,559.1 1103.1,543.6 1103.9,528.2 1104.8,512.8 1105.6,497.5 1106.4,482.5 1107.2,467.5 1108.0,452.8 1108.8,438.3 1109.6,424.0 1110.4,410.1 1111.2,396.4 1112.1,383.0 1112.9,370.0 1113.7,357.4 1114.5,345.1 1115.3,333.3 1116.1,321.9 1116.9,311.0 1117.8,300.6 1118.6,290.7 1119.4,281.3 1120.2,272.4 1121.0,264.1 1121.8,256.4 1122.6,249.2 1123.4,242.7 1124.2,236.8 1125.1,231.5 1125.9,226.9 1126.7,222.9 1127.5,219.5 1128.3,216.8 1129.1,214.8 1129.9,213.4 1130.8,212.8 1131.6,212.8 1132.4,213.4 1133.2,214.8 1134.0,216.8 1134.8,219.5 1135.6,222.9 1136.4,226.9 1137.2,231.5 1138.1,236.8 1138.9,242.7 1139.7,249.2 1140.5,256.4 1141.3,264.1 1142.1,272.4 1142.9,281.3 1143.8,290.7 1144.6,300.6 1145.4,311.0 1146.2,321.9 1147.0,333.3 1147.8,345.1 1148.6,357.4 1149.4,370.0 1150.2,383.0 1151.1,396.4 1151.9,410.1 1152.7,424.0 1153.5,438.3 1154.3,452.8 1155.1,467.5 1155.9,482.5 1156.8,497.5 1157.6,512.8 1158.4,528.2 1159.2,543.6 1160.0,559.1 1160.8,574.7 1161.6,590.3 1162.4,605.9 1163.2,621.4 1164.1,636.9 1164.9,652.3 1165.7,667.6 1166.5,682.8 1167.3,697.8 1168.1,712.7 1168.9,727.4 1169.8,741.9 1170.6,756.1 1171.4,770.1 1172.2,783.9 1173.0,797.3 1173.8,810.5 1174.6,823.4 1175.4,836.0 1176.2,848.3 1177.1,860.2 1177.9,871.7 1178.7,882.9 1179.5,893.8 1180.3,904.3 1181.1,914.4 1181.9,924.1 1182.8,933.5 1183.6,942.5 1184.4,951.0 1185.2,959.3 1186.0,967.1 1186.8,974.5 1187.6,981.6 1188.4,988.3 1189.2,994.7 1190.1,1000.6 1190.9,1006.3 1191.7,1011.5 1192.5,1016.5 1193.3,1021.1 1194.1,1025.4 1194.9,1029.3 1195.8,1033.0 1196.6,1036.4 1197.4,1039.5 1198.2,1042.3 1199.0,1044.9 1199.8,1047.3 1200.6,1049.4 1201.4,1051.3 1202.2,1052.9 1203.1,1054.4 1203.9,1055.8 1204.7,1056.9 1205.5,1057.9 1206.3,1058.8 1207.1,1059.5 1207.9,1060.1 1208.8,1060.6 1209.6,1061.0 1210.4,1061.4 1211.2,1061.6 1212.0,1061.8 1212.8,1062.0 1213.6,1062.1 1214.4,1062.1 1215.2,1062.1 1216.1,1062.2 1216.9,1062.2 1217.7,1062.1 1218.5,1062.1 1219.3,1062.1 1220.1,1062.1 1220.9,1062.1 1221.8,1062.1 1222.6,1062.1 1223.4,1062.1 1224.2,1062.1 1225.0,1062.1 1225.8,1062.1 1226.6,1062.1 1227.4,1062.2 1228.2,1062.2 1229.1,1062.1 1229.9,1062.1 1230.7,1062.1 1231.5,1062.0 1232.3,1061.8 1233.1,1061.6 1233.9,1061.4 1234.7,1061.0 1235.6,1060.6 1236.4,1060.1 1237.2,1059.5 1238.0,1058.8 1238.8,1057.9 1239.6,1056.9 1240.4,1055.8 1241.2,1054.4 1242.1,1052.9 1242.9,1051.3 1243.7,1049.4 1244.5,1047.3 1245.3,1044.9 1246.1,1042.3 1246.9,1039.5 1247.8,1036.4 1248.6,1033.0 1249.4,1029.3 1250.2,1025.4 1251.0,1021.1 1251.8,1016.5 1252.6,1011.5 1253.4,1006.3 1254.2,1000.6 1255.1,994.7 1255.9,988.3 1256.7,981.6 1257.5,974.5 1258.3,967.1 1259.1,959.3 1259.9,951.0 1260.8,942.5 1261.6,933.5 1262.4,924.1 1263.2,914.4 1264.0,904.3 1264.8,893.8 1265.6,882.9 1266.4,871.7 1267.2,860.2 1268.1,848.3 1268.9,836.0 1269.7,823.4 1270.5,810.5 1271.3,797.3 1272.1,783.9 1272.9,770.1 1273.8,756.1 1274.6,741.9 1275.4,727.4 1276.2,712.7 1277.0,697.8 1277.8,682.8 1278.6,667.6 1279.4,652.3 1280.3,636.9 1281.1,621.4 1281.9,605.9 1282.7,590.3 1283.5,574.7 1284.3,559.1 1285.1,543.6 1285.9,528.2 1286.8,512.8 1287.6,497.5 1288.4,482.5 1289.2,467.5 1290.0,452.8 1290.8,438.3 1291.6,424.0 1292.4,410.1 1293.2,396.4 1294.1,383.0 1294.9,370.0 1295.7,357.4 1296.5,345.1 1297.3,333.3 1298.1,321.9 1298.9,311.0 1299.7,300.6 1300.6,290.7 1301.4,281.3 1302.2,272.4 1303.0,264.1 1303.8,256.4 1304.6,249.2 1305.4,242.7 1306.2,236.8 1307.1,231.5 1307.9,226.9 1308.7,222.9 1309.5,219.5 1310.3,216.8 1311.1,214.8 1311.9,213.4 1312.8,212.8 1313.6,212.8 1314.4,213.4 1315.2,214.8 1316.0,216.8 1316.8,219.5 1317.6,222.9 1318.4,226.9 1319.2,231.5 1320.1,236.8 1320.9,242.7 1321.7,249.2 1322.5,256.4 1323.3,264.1 1324.1,272.4 1324.9,281.3 1325.8,290.7 1326.6,300.6 1327.4,311.0 1328.2,321.9 1329.0,333.3 1329.8,345.1 1330.6,357.4 1331.4,370.0 1332.2,383.0 1333.1,396.4 1333.9,410.1 1334.7,424.0 1335.5,438.3 1336.3,452.8 1337.1,467.5 1337.9,482.5 1338.8,497.5 1339.6,512.8 1340.4,528.2 1341.2,543.6 1342.0,559.1 1342.8,574.7 1343.6,590.3 1344.4,605.9 1345.3,621.4 1346.1,636.9 1346.9,652.3 1347.7,667.6 1348.5,682.8 1349.3,697.8 1350.1,712.7 1350.9,727.4 1351.8,741.9 1352.6,756.1 1353.4,770.1 1354.2,783.9 1355.0,797.3 1355.8,810.5 1356.6,823.4 1357.4,836.0 1358.2,848.3 1359.1,860.2 1359.9,871.7 1360.7,882.9 1361.5,893.8 1362.3,904.3 1363.1,914.4 1363.9,924.1 1364.7,933.5 1365.6,942.5 1366.4,951.0 1367.2,959.3 1368.0,967.1 1368.8,974.5 1369.6,981.6 1370.4,988.3 1371.2,994.7 1372.1,1000.6 1372.9,1006.3 1373.7,1011.5 1374.5,1016.5 1375.3,1021.1 1376.1,1025.4 1376.9,1029.3 1377.8,1033.0 1378.6,1036.4 1379.4,1039.5 1380.2,1042.3 1381.0,1044.9 1381.8,1047.3 1382.6,1049.4 1383.4,1051.3 1384.2,1052.9 1385.1,1054.4 1385.9,1055.8 1386.7,1056.9 1387.5,1057.9 1388.3,1058.8 1389.1,1059.5 1389.9,1060.1 1390.8,1060.6 1391.6,1061.0 1392.4,1061.4 1393.2,1061.6 1394.0,1061.8 1394.8,1062.0 1395.6,1062.1 1396.4,1062.1 1397.2,1062.1 1398.1,1062.2 1398.9,1062.2 1399.7,1062.1 1400.5,1062.1 1401.3,1062.1 1402.1,1062.1 1402.9,1062.1 1403.8,1062.1 1404.6,1062.1 1405.4,1062.1 1406.2,1062.1 1407.0,1062.1 1407.8,1062.1 1408.6,1062.1 1409.4,1062.2 1410.3,1062.2 1411.1,1062.1 1411.9,1062.1 1412.7,1062.1 1413.5,1062.0 1414.3,1061.8 1415.1,1061.6 1415.9,1061.4 1416.8,1061.0 1417.6,1060.6 1418.4,1060.1 1419.2,1059.5 1420.0,1058.8 1420.8,1057.9 1421.6,1056.9 1422.4,1055.8 1423.2,1054.4 1424.1,1052.9 1424.9,1051.3 1425.7,1049.4 1426.5,1047.3 1427.3,1044.9 1428.1,1042.3 1428.9,1039.5 1429.7,1036.4 1430.6,1033.0 1431.4,1029.3 1432.2,1025.4 1433.0,1021.1 1433.8,1016.5 1434.6,1011.5 1435.4,1006.3 1436.2,1000.6 1437.1,994.7 1437.9,988.3 1438.7,981.6 1439.5,974.5 1440.3,967.1 1441.1,959.3 1441.9,951.0 1442.8,942.5 1443.6,933.5 1444.4,924.1 1445.2,914.4 1446.0,904.3 1446.8,893.8 1447.6,882.9 1448.4,871.7 1449.2,860.2 1450.1,848.3 1450.9,836.0 1451.7,823.4 1452.5,810.5 1453.3,797.3 1454.1,783.9 1454.9,770.1 1455.8,756.1 1456.6,741.9 1457.4,727.4 1458.2,712.7 1459.0,697.8 1459.8,682.8 1460.6,667.6 1461.4,652.3 1462.2,636.9 1463.1,621.4 1463.9,605.9 1464.7,590.3 1465.5,574.7 1466.3,559.1 1467.1,543.6 1467.9,528.2 1468.8,512.8 1469.6,497.5 1470.4,482.5 1471.2,467.5 1472.0,452.8 1472.8,438.3 1473.6,424.0 1474.4,410.1 1475.3,396.4 1476.1,383.0 1476.9,370.0 1477.7,357.4 1478.5,345.1 1479.3,333.3 1480.1,321.9 1480.9,311.0 1481.8,300.6 1482.6,290.7 1483.4,281.3 1484.2,272.4 1485.0,264.1 1485.8,256.4 1486.6,249.2 1487.4,242.7 1488.2,236.8 1489.1,231.5 1489.9,226.9 1490.7,222.9 1491.5,219.5 1492.3,216.8 1493.1,214.8 1493.9,213.4 1494.7,212.8 1495.6,212.8 1496.4,213.4 1497.2,214.8 1498.0,216.8 1498.8,219.5 1499.6,222.9 1500.4,226.9 1501.2,231.5 1502.1,236.8 1502.9,242.7 1503.7,249.2 1504.5,256.4 1505.3,264.1 1506.1,272.4 1506.9,281.3 1507.8,290.7 1508.6,300.6 1509.4,311.0 1510.2,321.9 1511.0,333.3 1511.8,345.1 1512.6,357.4 1513.4,370.0 1514.2,383.0 1515.1,396.4 1515.9,410.1 1516.7,424.0 1517.5,438.3 1518.3,452.8 1519.1,467.5 1519.9,482.5 1520.8,497.5 1521.6,512.8 1522.4,528.2 1523.2,543.6 1524.0,559.1 1524.8,574.7 1525.6,590.3 1526.4,605.9 1527.2,621.4 1528.1,636.9 1528.9,652.3 1529.7,667.6 1530.5,682.8 1531.3,697.8 1532.1,712.7 1532.9,727.4 1533.8,741.9 1534.6,756.1 1535.4,770.1 1536.2,783.9 1537.0,797.3 1537.8,810.5 1538.6,823.4 1539.4,836.0 1540.2,848.3 1541.1,860.2 1541.9,871.7 1542.7,882.9 1543.5,893.8 1544.3,904.3 1545.1,914.4 1545.9,924.1 1546.8,933.5 1547.6,942.5 1548.4,951.0 1549.2,959.3 1550.0,967.1 1550.8,974.5 1551.6,981.6 1552.4,988.3 1553.2,994.7 1554.1,1000.6 1554.9,1006.3 1555.7,1011.5 1556.5,1016.5 1557.3,1021.1 1558.1,1025.4 1558.9,1029.3 1559.8,1033.0 1560.6,1036.4 1561.4,1039.5 1562.2,1042.3 1563.0,1044.9 1563.8,1047.3 1564.6,1049.4 1565.4,1051.3 1566.2,1052.9 1567.1,1054.4 1567.9,1055.8 1568.7,1056.9 1569.5,1057.9 1570.3,1058.8 1571.1,1059.5 1571.9,1060.1 1572.8,1060.6 1573.6,1061.0 1574.4,1061.4 1575.2,1061.6 1576.0,1061.8 1576.8,1062.0 1577.6,1062.1 1578.4,1062.1 1579.2,1062.1 1580.1,1062.2 1580.9,1062.2 1581.7,1062.1 1582.5,1062.1 1583.3,1062.1 1584.1,1062.1 1584.9,1062.1 1585.8,1062.1 1586.6,1062.1 1587.4,1062.1 1588.2,1062.1 1589.0,1062.1 1589.8,1062.1 1590.6,1062.1 1591.4,1062.2 1592.2,1062.2 1593.1,1062.1 1593.9,1062.1 1594.7,1062.1 1595.5,1062.0 1596.3,1061.8 1597.1,1061.6 1597.9,1061.4 1598.8,1061.0 1599.6,1060.6 1600.4,1060.1 1601.2,1059.5 1602.0,1058.8 1602.8,1057.9 1603.6,1056.9 1604.4,1055.8 1605.2,1054.4 1606.1,1052.9 1606.9,1051.3 1607.7,1049.4 1608.5,1047.3 1609.3,1044.9 1610.1,1042.3 1610.9,1039.5 1611.8,1036.4 1612.6,1033.0 1613.4,1029.3 1614.2,1025.4 1615.0,1021.1 1615.8,1016.5 1616.6,1011.5 1617.4,1006.3 1618.2,1000.6 1619.1,994.7 1619.9,988.3 1620.7,981.6 1621.5,974.5 1622.3,967.1 1623.1,959.3 1623.9,951.0 1624.8,942.5 1625.6,933.5 1626.4,924.1 1627.2,914.4 1628.0,904.3 1628.8,893.8 1629.6,882.9 1630.4,871.7 1631.2,860.2 1632.1,848.3 1632.9,836.0 1633.7,823.4 1634.5,810.5 1635.3,797.3 1636.1,783.9 1636.9,770.1 1637.8,756.1 1638.6,741.9 1639.4,727.4 1640.2,712.7 1641.0,697.8 1641.8,682.8 1642.6,667.6 1643.4,652.3 1644.2,636.9 1645.1,621.4 1645.9,605.9 1646.7,590.3 1647.5,574.7 1648.3,559.1 1649.1,543.6 1649.9,528.2 1650.8,512.8 1651.6,497.5 1652.4,482.5 1653.2,467.5 1654.0,452.8 1654.8,438.3 1655.6,424.0 1656.4,410.1 1657.2,396.4 1658.1,383.0 1658.9,370.0 1659.7,357.4 1660.5,345.1 1661.3,333.3 1662.1,321.9 1662.9,311.0 1663.8,300.6 1664.6,290.7 1665.4,281.3 1666.2,272.4 1667.0,264.1 1667.8,256.4 1668.6,249.2 1669.4,242.7 1670.2,236.8 1671.1,231.5 1671.9,226.9 1672.7,222.9 1673.5,219.5 1674.3,216.8 1675.1,214.8 1675.9,213.4 1676.8,212.8 1677.6,212.8 1678.4,213.4 1679.2,214.8 1680.0,216.8 1680.8,219.5 1681.6,222.9 1682.4,226.9 1683.2,231.5 1684.1,236.8 1684.9,242.7 1685.7,249.2 1686.5,256.4 1687.3,264.1 1688.1,272.4 1688.9,281.3 1689.8,290.7 1690.6,300.6 1691.4,311.0 1692.2,321.9 1693.0,333.3 1693.8,345.1 1694.6,357.4 1695.4,370.0 1696.2,383.0 1697.1,396.4 1697.9,410.1 1698.7,424.0 1699.5,438.3 1700.3,452.8 1701.1,467.5 1701.9,482.5 1702.8,497.5 1703.6,512.8 1704.4,528.2 1705.2,543.6 1706.0,559.1 1706.8,574.7 1707.6,590.3 1708.4,605.9 1709.2,621.4 1710.1,636.9 1710.9,652.3 1711.7,667.6 1712.5,682.8 1713.3,697.8 1714.1,712.7 1714.9,727.4 1715.8,741.9 1716.6,756.1 1717.4,770.1 1718.2,783.9 1719.0,797.3 1719.8,810.5 1720.6,823.4 1721.4,836.0 1722.2,848.3 1723.1,860.2 1723.9,871.7 1724.7,882.9 1725.5,893.8 1726.3,904.3 1727.1,914.4 1727.9,924.1 1728.8,933.5 1729.6,942.5 1730.4,951.0 1731.2,959.3 1732.0,967.1 1732.8,974.5 1733.6,981.6 1734.4,988.3 1735.2,994.7 1736.1,1000.6 1736.9,1006.3 1737.7,1011.5 1738.5,1016.5 1739.3,1021.1 1740.1,1025.4 1740.9,1029.3 1741.8,1033.0 1742.6,1036.4 1743.4,1039.5 1744.2,1042.3 1745.0,1044.9 1745.8,1047.3 1746.6,1049.4 1747.4,1051.3 1748.2,1052.9 1749.1,1054.4 1749.9,1055.8 1750.7,1056.9 1751.5,1057.9 1752.3,1058.8 1753.1,1059.5 1753.9,1060.1 1754.8,1060.6 1755.6,1061.0 1756.4,1061.4 1757.2,1061.6 1758.0,1061.8 1758.8,1062.0 1759.6,1062.1 1760.4,1062.1 1761.2,1062.1 1762.1,1062.2 1762.9,1062.2 1763.7,1062.1 1764.5,1062.1 1765.3,1062.1 1766.1,1062.1 1766.9,1062.1 1767.8,1062.1 1768.6,1062.1 1769.4,1062.1 1770.2,1062.1 1771.0,1062.1 1771.8,1062.1 1772.6,1062.1 1773.4,1062.2 1774.2,1062.2 1775.1,1062.1 1775.9,1062.1 1776.7,1062.1 1777.5,1062.0 1778.3,1061.8 1779.1,1061.6 1779.9,1061.4 1780.8,1061.0 1781.6,1060.6 1782.4,1060.1 1783.2,1059.5 1784.0,1058.8 1784.8,1057.9 1785.6,1056.9 1786.4,1055.8 1787.2,1054.4 1788.1,1052.9 1788.9,1051.3 1789.7,1049.4 1790.5,1047.3 1791.3,1044.9 1792.1,1042.3 1792.9,1039.5 1793.8,1036.4 1794.6,1033.0 1795.4,1029.3 1796.2,1025.4 1797.0,1021.1 1797.8,1016.5 1798.6,1011.5 1799.4,1006.3 1800.2,1000.6 1801.1,994.7 1801.9,988.3 1802.7,981.6 1803.5,974.5 1804.3,967.1 1805.1,959.3 1805.9,951.0 1806.8,942.5 1807.6,933.5 1808.4,924.1 1809.2,914.4 1810.0,904.3"/>
</g>
<line x1="1035" y1="77" x2="1187" y2="77" stroke="#000" stroke-width="6" stroke-linecap="round"/>
<rect x="1097" y="64" width="28" height="26" fill="#000" shape-rendering="crispEdges"/>
<line x1="1035.5" y1="154.5" x2="1187.5" y2="154.5" stroke="#f00" stroke-width="9" stroke-linecap="round"/>
<text class="lg" x="1204.5" y="98">Numerical date</text>
<text class="lg" x="1206" y="176">Theory date</text>
</svg></body></html>
